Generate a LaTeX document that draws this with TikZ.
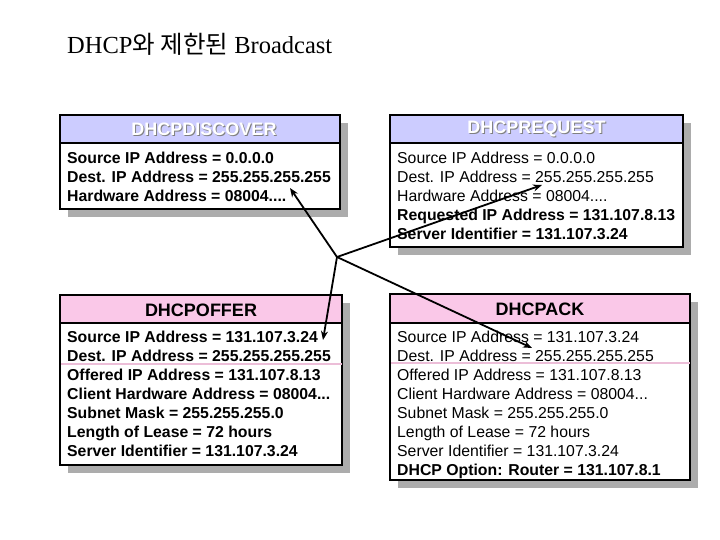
\documentclass[tikz,border=0pt]{standalone}
\usepackage{fontspec}
\setmainfont{Liberation Sans}
\newfontfamily\titlefont{Liberation Serif}
\newfontfamily\krfont{Noto Sans CJK KR}
\usetikzlibrary{arrows.meta}
\definecolor{lav}{RGB}{204,204,255}
\definecolor{pinkh}{RGB}{250,200,232}
\definecolor{pinkl}{RGB}{236,190,216}
\definecolor{shad}{RGB}{172,172,172}
\tikzset{
  x=1pt,y=-1pt,
  frame/.style={draw=black,line width=1.8pt},
  shadowbox/.style={fill=shad,draw=none},
  txt/.style={inner sep=0pt,anchor=base west,font=\fontsize{15.8}{19}\selectfont},
  btxt/.style={txt,font=\fontsize{15.8}{19}\selectfont\bfseries},
  htxt/.style={inner sep=0pt,font=\fontsize{18}{20}\selectfont\bfseries},
  conn/.style={line width=1.8pt,draw=black,-{Stealth[length=9pt,width=7pt]}},
  pinkline/.style={draw=pinkl,line width=2pt}
}
\begin{document}
\begin{tikzpicture}
\useasboundingbox (0,0) rectangle (720,540);
% title
\node[inner sep=0pt,anchor=base west,font=\fontsize{24.5}{28}\selectfont] (title) at (67,54)
  {\titlefont DHCP\krfont 와 제한된\titlefont{} Broadcast};
% shadows
\fill[shadowbox] (68,123) rectangle (348,217);
\fill[shadowbox] (398,123) rectangle (691,255);
\fill[shadowbox] (68,303) rectangle (350,473);
\fill[shadowbox] (398,302) rectangle (698,488);
% DHCPDISCOVER
\filldraw[frame,fill=white] (60,115) rectangle (340,209);
\filldraw[frame,fill=lav] (60,115) rectangle (340,143);
\node[htxt,text=gray] at (205,130) {DHCPDISCOVER};
\node[htxt,text=white] (discH) at (204,129) {DHCPDISCOVER};
\node[btxt] (d1) at (67,164) {Source IP Address = 0.0.0.0};
\node[btxt] (d2) at (67,183) {Dest. IP Address = 255.255.255.255};
\node[btxt] (d3) at (67,202) {Hardware Address = 08004....};
% DHCPREQUEST
\filldraw[frame,fill=white] (390,115) rectangle (683,247);
\filldraw[frame,fill=lav] (390,115) rectangle (683,143);
\node[htxt,text=gray] at (537.5,130) {DHCPREQUEST};
\node[htxt,text=white] (reqH) at (536.5,129) {DHCPREQUEST};
\node[txt] (r1) at (397,164) {Source IP Address = 0.0.0.0};
\node[txt] (r2) at (397,183) {Dest. IP Address = 255.255.255.255};
\node[txt] (r3) at (397,202) {Hardware Address = 08004....};
\node[btxt] (r4) at (397,221) {Requested IP Address = 131.107.8.13};
\node[btxt] (r5) at (397,240) {Server Identifier = 131.107.3.24};
% DHCPOFFER
\filldraw[frame,fill=white] (60,295) rectangle (342,465);
\filldraw[frame,fill=pinkh] (60,295) rectangle (342,323);
\node[htxt] (offH) at (201,310) {DHCPOFFER};
\node[btxt] (o1) at (67,342) {Source IP Address = 131.107.3.24};
\node[btxt] (o2) at (67,361) {Dest. IP Address = 255.255.255.255};
\node[btxt] (o3) at (67,380) {Offered IP Address = 131.107.8.13};
\node[btxt] (o4) at (67,399) {Client Hardware Address = 08004...};
\node[btxt] (o5) at (67,418) {Subnet Mask = 255.255.255.0};
\node[btxt] (o6) at (67,437) {Length of Lease = 72 hours};
\node[btxt] (o7) at (67,456) {Server Identifier = 131.107.3.24};
\draw[pinkline] (61,364) -- (342,364);
% DHCPACK
\filldraw[frame,fill=white] (390,294) rectangle (690,480);
\filldraw[frame,fill=pinkh] (390,294) rectangle (690,323);
\node[htxt] (ackH) at (540,309.5) {DHCPACK};
\node[txt] (a1) at (397,342) {Source IP Address = 131.107.3.24};
\node[txt] (a2) at (397,361) {Dest. IP Address = 255.255.255.255};
\node[txt] (a3) at (397,380) {Offered IP Address = 131.107.8.13};
\node[txt] (a4) at (397,399) {Client Hardware Address = 08004...};
\node[txt] (a5) at (397,418) {Subnet Mask = 255.255.255.0};
\node[txt] (a6) at (397,437) {Length of Lease = 72 hours};
\node[txt] (a7) at (397,456) {Server Identifier = 131.107.3.24};
\node[btxt] (a8) at (397,475) {DHCP Option: Router = 131.107.8.1};
\draw[pinkline] (391,363) -- (690,363);
% connectors
\coordinate (hub) at (337,257);
\coordinate (tDisc) at (290,188);
\coordinate (tReq) at (542,185);
\coordinate (tOff) at (323,340);
\coordinate (tAck) at (532,348);
\draw[conn] (hub) -- (tDisc);
\draw[conn] (hub) -- (tReq);
\draw[conn] (hub) -- (tOff);
\draw[conn] (hub) -- (tAck);
\end{tikzpicture}
\end{document}
